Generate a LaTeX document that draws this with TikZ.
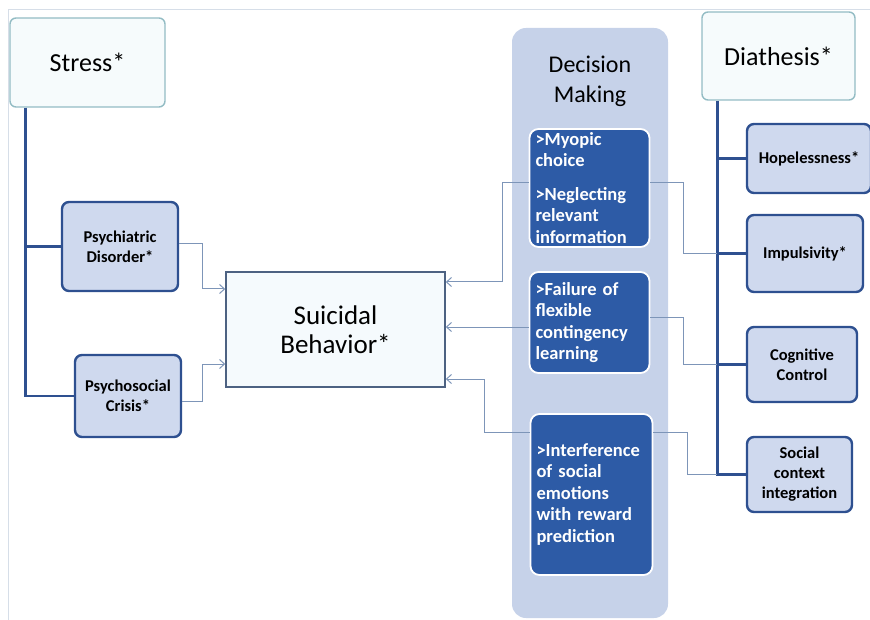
\documentclass[tikz,border=0pt]{standalone}
\usepackage{fontspec}
\setmainfont{Carlito}
\usetikzlibrary{arrows.meta}
\hyphenpenalty=10000
\definecolor{navy}{HTML}{2E5090}
\definecolor{subfill}{HTML}{CFD9EE}
\definecolor{headline}{HTML}{93BCC4}
\definecolor{headfill}{HTML}{F6FBFC}
\definecolor{mainline}{HTML}{4D6282}
\definecolor{mainfill}{HTML}{F5FAFD}
\definecolor{colfill}{HTML}{C6D2E9}
\definecolor{dmfill}{HTML}{2D5BA6}
\definecolor{link}{HTML}{7D95B8}
\definecolor{framecol}{HTML}{D6DEE8}
\tikzstyle{head}=[rectangle, rounded corners=6pt, draw=headline, line width=1.4pt, fill=headfill, font=\fontsize{26}{30}\selectfont]
\tikzstyle{sub}=[rectangle, rounded corners=7pt, draw=navy, line width=2.4pt, fill=subfill, align=center, font=\bfseries\fontsize{16.5}{20}\selectfont]
\tikzstyle{main}=[rectangle, draw=mainline, line width=1.5pt, fill=mainfill, align=center, font=\fontsize{27}{29}\selectfont]
\tikzstyle{col}=[rectangle, rounded corners=14pt, fill=colfill]
\tikzstyle{dm}=[rectangle, rounded corners=9pt, draw=white, line width=1.8pt, fill=dmfill, text=white, align=left, inner xsep=6pt, font=\bfseries\fontsize{18.5}{21.5}\selectfont]
\tikzstyle{edge}=[-{Straight Barb[length=5pt,width=9pt]}, draw=link, line width=1pt]
\tikzstyle{wedge}=[-, draw=link, line width=1pt]
\tikzstyle{trunk}=[-, draw=navy, line width=2.6pt]
\tikzstyle{frame}=[-, draw=framecol, line width=1pt]
\begin{document}
\begin{tikzpicture}[x=1pt, y=-1pt]
	\useasboundingbox (0,0) rectangle (870,620);
	\draw[frame] (8,620) -- (8,10) -- (870,10);

	%The stress side
	\draw (87.5,62.5) node[head, minimum width=155pt, minimum height=89pt] (stress) {Stress*};
	\draw (120,246.5) node[sub, minimum width=116pt, minimum height=89pt] (psych) {Psychiatric\\Disorder*};
	\draw (128,396) node[sub, minimum width=106pt, minimum height=82pt] (crisis) {Psychosocial\\Crisis*};

	\coordinate (s0) at ([xshift=16pt]stress.south west);
	\draw[trunk] (s0) |- (crisis.west);
	\draw[trunk] (psych.west) -- (psych.west -| s0);

	%The outcome
	\draw (335.5,329.5) node[main, minimum width=219pt, minimum height=115pt] (suicidal) {Suicidal\\Behavior*};

	\draw[edge] ([yshift=2.5pt]psych.east) -- ++(23pt,0) |- ([yshift=40.5pt]suicidal.west);
	\draw[edge] ([yshift=-5pt]crisis.east) -- ++(20pt,0) |- ([yshift=-34.5pt]suicidal.west);

	%The decision making column
	\draw (590,323) node[col, minimum width=156pt, minimum height=590pt] (column) {};
	\draw (590,81) node[align=center, font=\fontsize{24}{30}\selectfont] (dmtitle) {Decision\\Making};
	\draw (589.5,188) node[dm, text width=108pt, minimum height=118pt] (myopic) {>Myopic\\choice\\[12pt]>Neglecting\\relevant\\information};
	\draw (589.5,322.5) node[dm, text width=108pt, minimum height=101pt] (failure) {>Failure of\\flexible\\contingency\\learning};
	\draw (591.5,494.5) node[dm, text width=110pt, minimum height=161pt] (interf) {>Interference\\of social\\emotions\\with reward\\prediction};

	%The diathesis side
	\draw (778.5,56) node[head, minimum width=153pt, minimum height=88pt] (diathesis) {Diathesis*};
	\draw (809,158.5) node[sub, minimum width=124pt, minimum height=69pt] (hope) {Hopelessness*};
	\draw (805,253.5) node[sub, minimum width=116pt, minimum height=77pt] (impuls) {Impulsivity*};
	\draw (802,364.5) node[sub, minimum width=110pt, minimum height=75pt] (cog) {Cognitive\\Control};
	\draw (799.5,474.5) node[sub, minimum width=105pt, minimum height=75pt] (social) {Social\\context\\integration};

	\coordinate (d0) at ([xshift=16pt]diathesis.south west);
	\draw[trunk] (d0) |- (social.west);
	\draw[trunk] (hope.west) -- (hope.west -| d0);
	\draw[trunk] (impuls.west) -- (impuls.west -| d0);
	\draw[trunk] (cog.west) -- (cog.west -| d0);

	%Links through decision making
	\draw[edge] ([yshift=5pt]myopic.west) -- ++(-26pt,0) |- ([yshift=47.5pt]suicidal.east);
	\draw[wedge] ([yshift=5pt]myopic.east) -- ++(33pt,0) |- (impuls.west -| d0);
	\draw[edge] ([yshift=-4.5pt]failure.west) -- ([yshift=-4.5pt]failure.west -| suicidal.east);
	\draw[wedge] ([yshift=4.5pt]failure.east) -- ++(33pt,0) |- (cog.west -| d0);
	\draw[edge] ([yshift=62.5pt]interf.west) -- ++(-45pt,0) |- ([yshift=-49.5pt]suicidal.east);
	\draw[wedge] ([yshift=62.5pt]interf.east) -- ++(34pt,0) |- (social.west -| d0);
\end{tikzpicture}
\end{document}
